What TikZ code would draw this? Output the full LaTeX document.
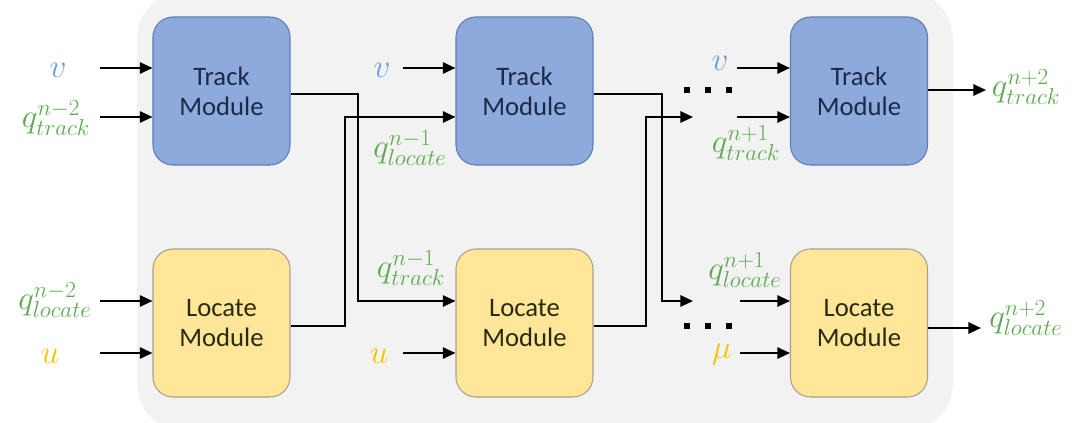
\documentclass[tikz,border=0pt]{standalone}
\usepackage{fontspec}
\setsansfont{Carlito}
\usetikzlibrary{arrows.meta,calc}
\definecolor{bggray}{HTML}{F2F2F2}
\definecolor{trackfill}{HTML}{8EA9DB}
\definecolor{trackdraw}{HTML}{5E7DB8}
\definecolor{locfill}{HTML}{FFE699}
\definecolor{locdraw}{HTML}{A8A28C}
\definecolor{vblue}{HTML}{6F9FD8}
\definecolor{qgreen}{HTML}{5FAA50}
\definecolor{uyellow}{HTML}{F2C500}
\definecolor{trackText}{HTML}{1B2A4A}
\definecolor{locText}{HTML}{2A2A10}
\begin{document}
\begin{tikzpicture}[x=0.75pt,y=-0.75pt,
 module/.style={rounded corners=15pt, minimum width=102.75pt, minimum height=111pt, line width=0.8pt, font=\sffamily\fontsize{20}{22.5}\selectfont, align=center, inner sep=0},
 trackbox/.style={module, fill=trackfill, draw=trackdraw, text=trackText},
 locbox/.style={module, fill=locfill, draw=locdraw, text=locText},
 lbl/.style={inner sep=0, font=\fontsize{27}{27}\selectfont},
 conn/.style={line width=1.5pt, -{Triangle[length=9.5pt,width=8.5pt]}},
 dotsq/.style={fill=black, minimum size=4.5pt, inner sep=0}
]
\useasboundingbox (0,0) rectangle (1080,422);
\fill[bggray, rounded corners=37pt] (137,-10) rectangle (953,432);

% modules
\node[trackbox] (T1) at (221.5,91) {Track\\Module};
\node[locbox]   (L1) at (221.5,323) {Locate\\Module};
\node[trackbox] (T2) at (524.5,91) {Track\\Module};
\node[locbox]   (L2) at (524.5,323) {Locate\\Module};
\node[trackbox] (T3) at (859,91) {Track\\Module};
\node[locbox]   (L3) at (859,323) {Locate\\Module};

% labels
\node[lbl, text=vblue]   (v1)  at (58,70)   {$v$};
\node[lbl, text=qgreen]  (qt1) at (56,118)  {$q^{n-2}_{track}$};
\node[lbl, text=qgreen]  (ql1) at (55,300)  {$q^{n-2}_{locate}$};
\node[lbl, text=uyellow] (u1)  at (50,356)  {$u$};
\node[lbl, text=vblue]   (v2)  at (382,70)  {$v$};
\node[lbl, text=qgreen]  (ql2) at (410,148) {$q^{n-1}_{locate}$};
\node[lbl, text=qgreen]  (qt2) at (411,268) {$q^{n-1}_{track}$};
\node[lbl, text=uyellow] (u2)  at (379,356) {$u$};
\node[lbl, text=vblue]   (v3)  at (720,63)  {$v$};
\node[lbl, text=qgreen]  (qt3) at (746,143) {$q^{n+1}_{track}$};
\node[lbl, text=qgreen]  (ql3) at (745,270) {$q^{n+1}_{locate}$};
\node[lbl, text=uyellow] (u3)  at (722,355) {$\mu$};
\node[lbl, text=qgreen]  (qt4) at (1026,87) {$q^{n+2}_{track}$};
\node[lbl, text=qgreen]  (ql4) at (1026,318){$q^{n+2}_{locate}$};

% arrow start points
\coordinate (a1) at (100,68);
\coordinate (a2) at (100,117);
\coordinate (a3) at (100,301);
\coordinate (a4) at (100,353);
\coordinate (a5) at (403,68);
\coordinate (a6) at (403,353);
\coordinate (a7) at (737,68);
\coordinate (a8) at (737,117);
\coordinate (a9) at (740,301);
\coordinate (a10) at (740,353);

\draw[conn] (a1) -- (a1 -| T1.west);
\draw[conn] (a2) -- (a2 -| T1.west);
\draw[conn] (a3) -- (a3 -| L1.west);
\draw[conn] (a4) -- (a4 -| L1.west);
\draw[conn] (a5) -- (a5 -| T2.west);
\draw[conn] (a6) -- (a6 -| L2.west);
\draw[conn] (a7) -- (a7 -| T3.west);
\draw[conn] (a8) -- (a8 -| T3.west);
\draw[conn] (a9) -- (a9 -| L3.west);
\draw[conn] (a10) -- (a10 -| L3.west);

% routing helpers
\coordinate (y94) at (0,94);
\coordinate (y326) at (0,326);
\coordinate (b1) at (358,301);
\coordinate (b2) at (345,117);
\coordinate (b3) at (662,301);
\coordinate (b4) at (646,117);
\coordinate (e3) at (693,301);
\coordinate (e4) at (693,117);

\draw[conn] (T1.east |- y94) -| (b1) -- (b1 -| L2.west);
\draw[conn] (L1.east |- y326) -| (b2) -- (b2 -| T2.west);
\draw[conn] (T2.east |- y94) -| (b3) -- (e3);
\draw[conn] (L2.east |- y326) -| (b4) -- (e4);

% outputs
\coordinate (o1) at (986,90);
\coordinate (o2) at (981,328);
\draw[conn] (T3.east |- o1) -- (o1);
\draw[conn] (L3.east |- o2) -- (o2);

% dots
\node[dotsq] (d1) at (687,90) {};
\node[dotsq] (d2) at (708,90) {};
\node[dotsq] (d3) at (729,90) {};
\node[dotsq] (d4) at (687,326) {};
\node[dotsq] (d5) at (708,326) {};
\node[dotsq] (d6) at (729,326) {};
\end{tikzpicture}
\end{document}
